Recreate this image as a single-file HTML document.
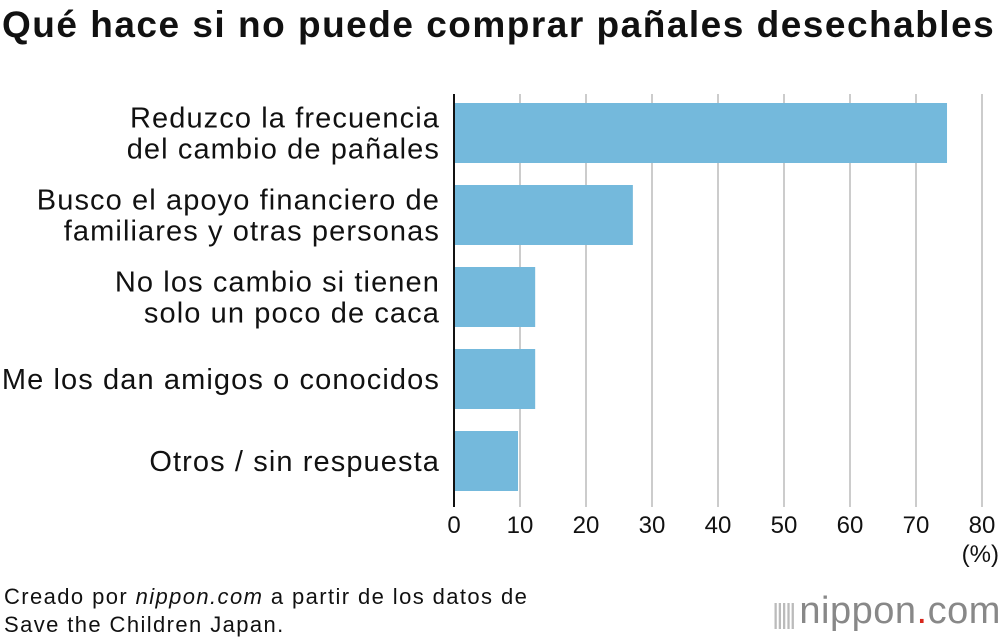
<!DOCTYPE html>
<html><head><meta charset="utf-8"><style>
body{margin:0;background:#fff;font-family:"Liberation Sans",sans-serif;}
#wrap{position:relative;width:1000px;height:640px;overflow:hidden;}
.t{position:absolute;color:#111;white-space:nowrap;}
</style></head><body>
<div id="wrap">
<div class="t" style="left:2px;top:4px;font-size:37px;font-weight:bold;letter-spacing:1.5px;">Qué hace si no puede comprar pañales desechables</div>
<svg id="chart" width="1000" height="640" style="position:absolute;left:0;top:0"></svg>
<div class="t" style="left:4px;top:583px;font-size:22px;line-height:28px;letter-spacing:1.4px;">Creado por <i>nippon.com</i> a partir de los datos de<br>Save the Children Japan.</div>
<div class="t" style="left:772px;top:590px;font-size:38px;color:#888;letter-spacing:0.5px;"><span style="font-size:28px;color:#bbb;letter-spacing:-3px;margin-right:6px">|||||</span>nippon<span style="color:#d8271c">.</span>com</div>
</div>
<script>
const categories=[["Reduzco la frecuencia","del cambio de pañales"],["Busco el apoyo financiero de","familiares y otras personas"],["No los cambio si tienen","solo un poco de caca"],["Me los dan amigos o conocidos"],["Otros / sin respuesta"]];
const values=[74.7,27.1,12.3,12.3,9.7];
const ticks=[0,10,20,30,40,50,60,70,80];
const svg=document.getElementById('chart');
const NS='http://www.w3.org/2000/svg';
const x=v=>454+v*6.6;
const yTop=i=>103+i*82;
const bh=60;
function mk(t,a){const e=document.createElementNS(NS,t);for(const k in a)e.setAttribute(k,a[k]);svg.appendChild(e);return e;}
ticks.forEach(t=>{
 if(t>0){const g=mk('line',{x1:x(t),x2:x(t),y1:94,y2:507,stroke:'#ccc','stroke-width':2});
 
 }
 const l=mk('text',{x:x(t),y:533,'text-anchor':'middle','font-size':24,fill:'#111','font-family':'Liberation Sans, sans-serif'});
 l.textContent=t;
 
 
});
const u=mk('text',{x:999,y:562,'text-anchor':'end','font-size':24,fill:'#111','font-family':'Liberation Sans, sans-serif'});
u.textContent='(%)';


values.forEach((v,i)=>{
 const r=mk('rect',{x:x(0),y:yTop(i),width:x(v)-x(0),height:bh,fill:'#74b9dc'});
 
 
 const lines=categories[i];
 const cy=yTop(i)+bh/2;
 lines.forEach((s,j)=>{
  const t=mk('text',{x:440,y:cy+10+(j-(lines.length-1)/2)*31,'text-anchor':'end','font-size':29,'letter-spacing':1.1,fill:'#111','font-family':'Liberation Sans, sans-serif'});
  t.textContent=s;
  
  
 });
});
const ax=mk('line',{x1:x(0),x2:x(0),y1:94,y2:507,stroke:'#111','stroke-width':2});


</script>
</body></html>
